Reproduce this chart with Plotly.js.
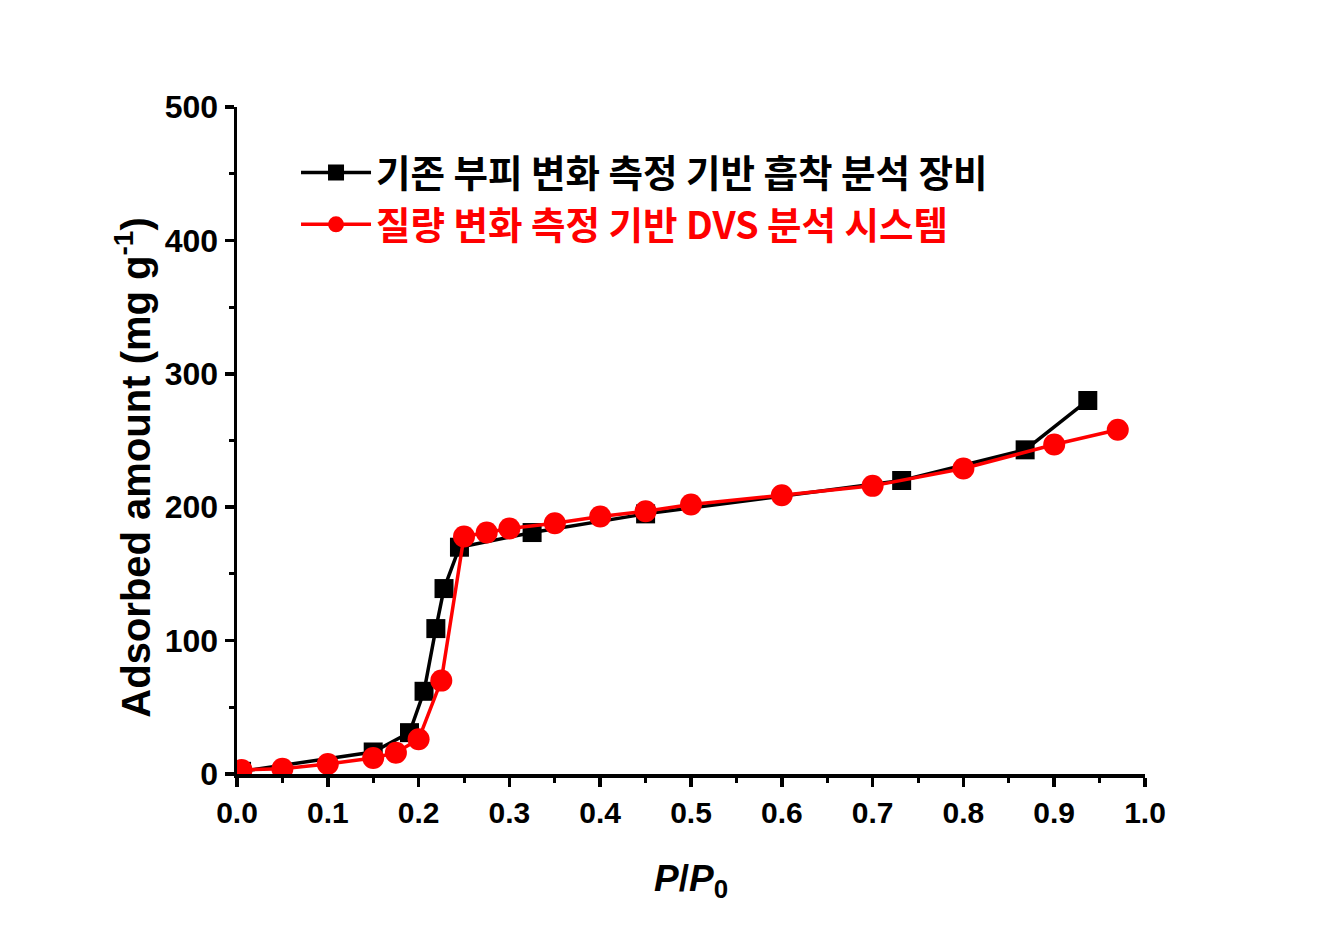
<!DOCTYPE html>
<html>
<head>
<meta charset="utf-8">
<script src="https://cdn.plot.ly/plotly-3.0.1.min.js"></script>
<style>html,body{margin:0;padding:0;background:#fff;}#chart{width:1329px;height:929px;}</style>
</head>
<body>
<div id="chart"></div>
<script>
// Conventional volumetric sorption instrument
const blackName = '기존 부피 변화 측정 기반 흡착 분석 장비';
const blackX = [0.005, 0.15, 0.19, 0.206, 0.219, 0.228, 0.245, 0.325, 0.45, 0.732, 0.868, 0.937];
const blackY = [2, 16.5, 31, 62, 109, 139, 170, 181, 195, 220, 243, 280];

// Gravimetric DVS system
const redName = '질량 변화 측정 기반 DVS 분석 시스템';
const redX = [0.005, 0.05, 0.1, 0.15, 0.175, 0.2, 0.225, 0.25, 0.275, 0.3, 0.35, 0.4, 0.45, 0.5, 0.6, 0.7, 0.8, 0.9, 0.97];
const redY = [3, 4, 7.5, 12, 16, 26, 70, 178, 181, 184, 188, 193, 197, 202, 209, 216, 229, 247, 258];

const xTicks = [0, 0.1, 0.2, 0.3, 0.4, 0.5, 0.6, 0.7, 0.8, 0.9, 1.0];
const xTickText = ['0.0','0.1','0.2','0.3','0.4','0.5','0.6','0.7','0.8','0.9','1.0'];
const yTicks = [0, 100, 200, 300, 400, 500];
const yTitle = 'Adsorbed amount (mg g<sup>-1</sup>)';
const xTitle = '<i>P</i>/<i>P</i><sub>0</sub>';

const korFont = '"Noto Sans CJK KR", sans-serif';
const latFont = 'Arial, "Liberation Sans", sans-serif';

const traces = [
  {
    x: blackX, y: blackY, type: 'scatter', mode: 'lines+markers',
    name: '<span style="color:#000000">' + blackName + '</span>',
    line: {color: '#000000', width: 3.5},
    marker: {symbol: 'square', size: 19, color: '#000000'}
  },
  {
    x: redX, y: redY, type: 'scatter', mode: 'lines+markers',
    name: '<span style="color:#ff0000">' + redName + '</span>',
    line: {color: '#ff0000', width: 3.5},
    marker: {symbol: 'circle', size: 22, color: '#ff0000'}
  }
];

const layout = {
  width: 1329, height: 929,
  paper_bgcolor: '#ffffff', plot_bgcolor: '#ffffff',
  margin: {l: 237, r: 184, t: 107, b: 155},
  showlegend: true,
  legend: {
    x: 0.065, y: 0.948, xanchor: 'left', yanchor: 'top',
    bgcolor: 'rgba(0,0,0,0)',
    font: {family: korFont, size: 37.5, color: '#000000', weight: 'bold'},
    tracegroupgap: 0, itemwidth: 70
  },
  xaxis: {
    range: [0, 1.0], tickvals: xTicks, ticktext: xTickText,
    showgrid: false, zeroline: false,
    showline: true, linecolor: '#000000', linewidth: 3.5,
    ticks: 'outside', ticklen: 9, tickwidth: 3.5, tickcolor: '#000000',
    minor: {dtick: 0.05, ticks: 'outside', ticklen: 5, tickwidth: 3, tickcolor: '#000000'},
    tickfont: {family: latFont, size: 30, color: '#000000', weight: 'bold'},
    title: {text: xTitle, font: {family: latFont, size: 37, color: '#000000', weight: 'bold'}, standoff: 38}
  },
  yaxis: {
    range: [0, 500], tickvals: yTicks,
    showgrid: false, zeroline: false,
    showline: true, linecolor: '#000000', linewidth: 3.5,
    ticks: 'outside', ticklen: 9, tickwidth: 3.5, tickcolor: '#000000',
    minor: {dtick: 50, ticks: 'outside', ticklen: 5, tickwidth: 3, tickcolor: '#000000'},
    tickfont: {family: latFont, size: 32, color: '#000000', weight: 'bold'}
  },
  annotations: [
    {
      text: yTitle, textangle: -90, showarrow: false,
      xref: 'paper', yref: 'paper', x: -0.114, y: 0.46,
      xanchor: 'center', yanchor: 'middle',
      font: {family: latFont, size: 40, color: '#000000', weight: 'bold'}
    }
  ]
};

Plotly.newPlot('chart', traces, layout, {displayModeBar: false, staticPlot: true});
</script>
</body>
</html>
